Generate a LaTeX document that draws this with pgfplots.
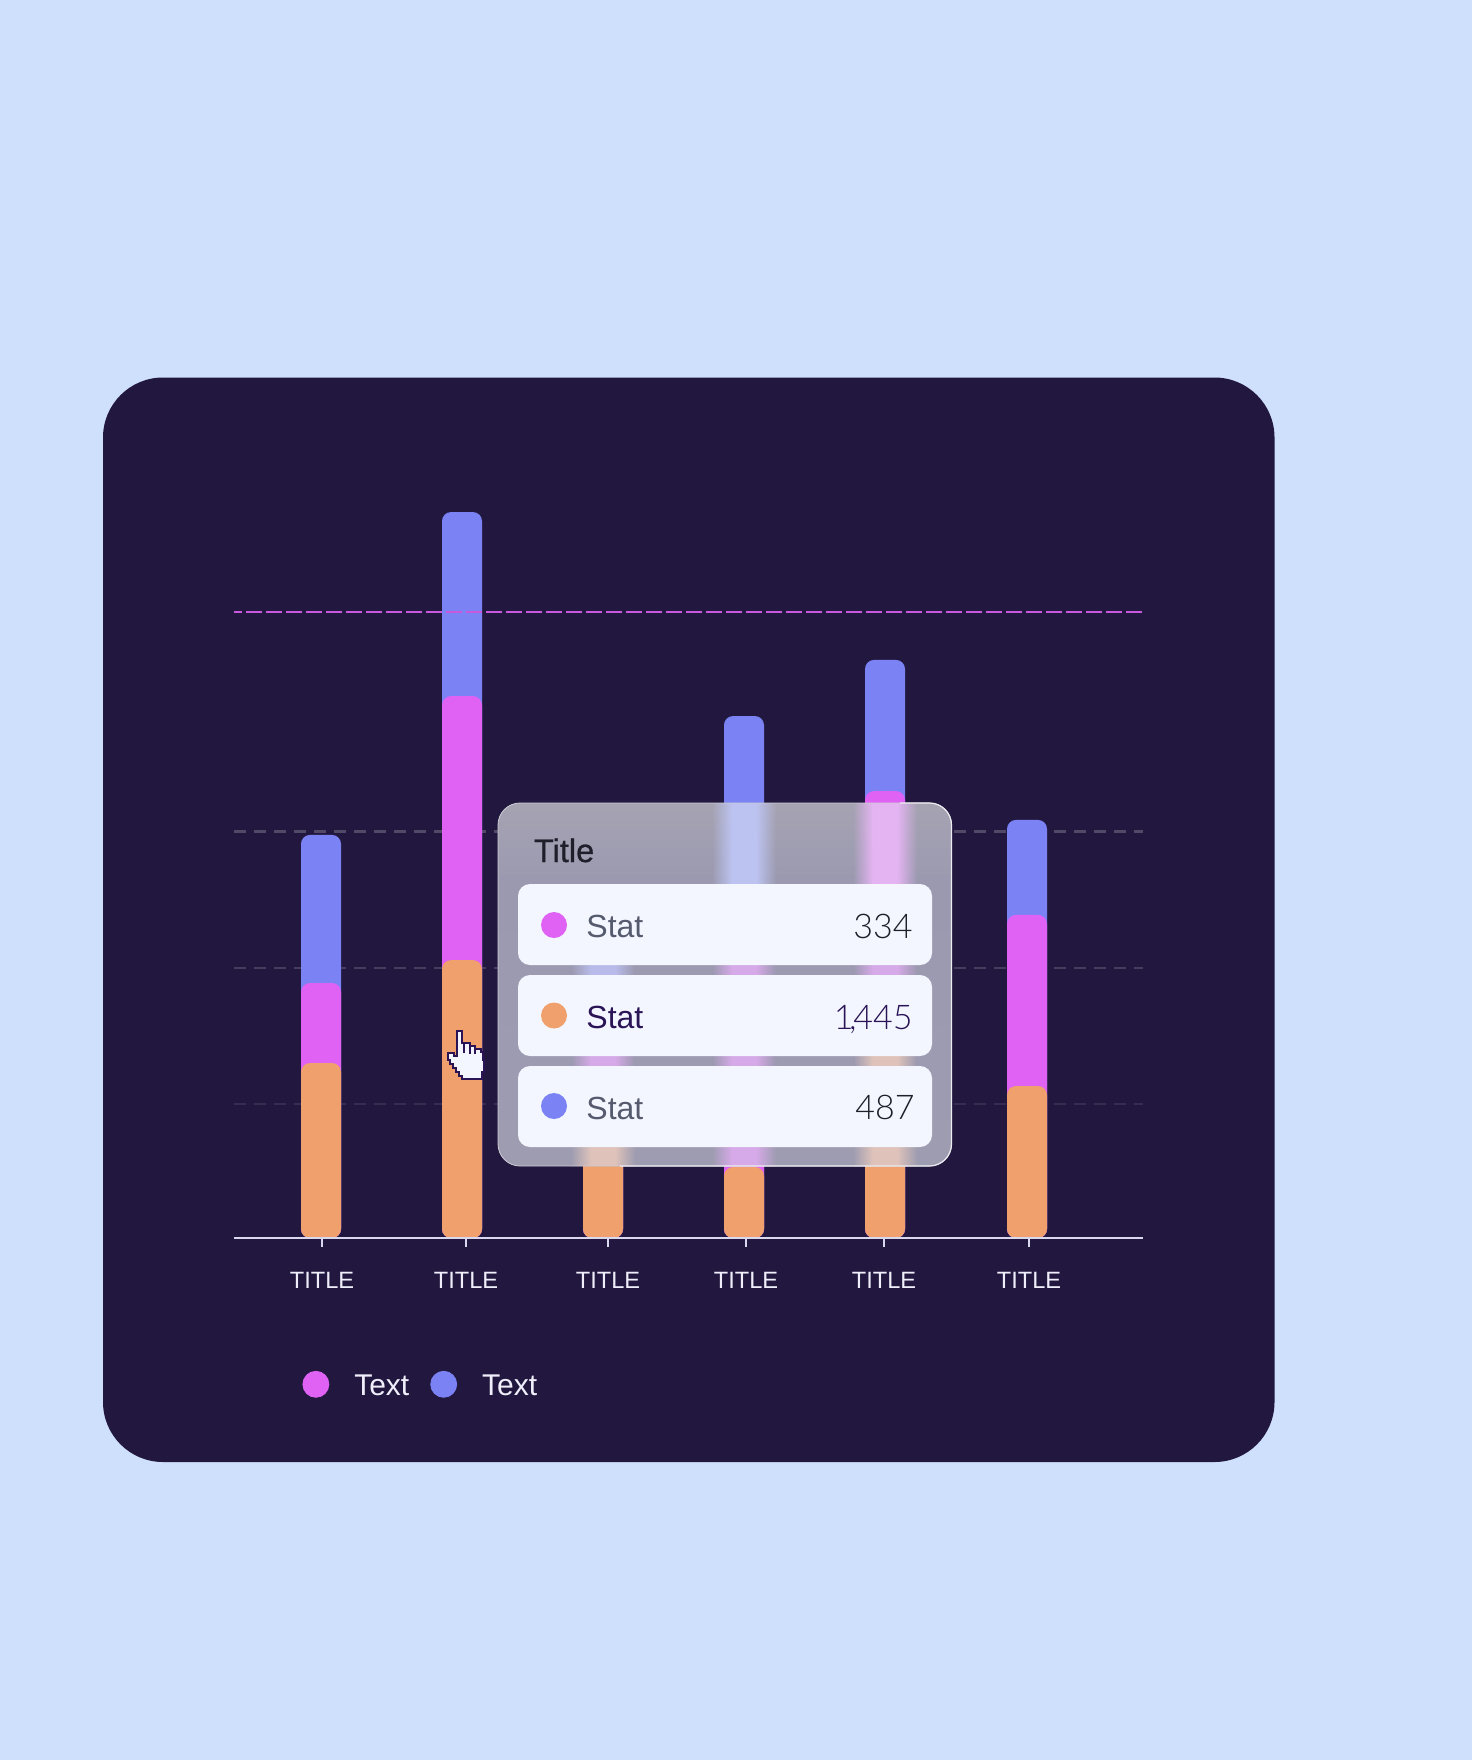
\documentclass[border=0pt]{standalone}
\usepackage{fontspec}
\usepackage{pgfplots}
\pgfplotsset{compat=1.18}
\setmainfont{Liberation Sans}
\newfontfamily\lightf{Lato Light}
\newfontfamily\medf[FakeBold=0.7]{Liberation Sans}
\definecolor{pagebg}{HTML}{CFE0FC}
\definecolor{card}{HTML}{22183F}
\definecolor{orangeb}{HTML}{F0A06C}
\definecolor{magb}{HTML}{DF62F4}
\definecolor{blueb}{HTML}{7A82F4}
\definecolor{axisc}{HTML}{DAD8EE}
\definecolor{labc}{HTML}{EFEEFA}
\definecolor{rowc}{HTML}{F3F6FE}
\definecolor{statc}{HTML}{555A6E}
\definecolor{numc}{HTML}{1F1F2C}
\definecolor{darkp}{HTML}{2A1456}
\definecolor{pa}{HTML}{A5A2B2}
\definecolor{pb}{HTML}{9B99B0}
\definecolor{pc}{HTML}{9E9CB1}
\definecolor{tblue}{HTML}{BCC3F0}
\definecolor{tmag}{HTML}{E4B4F2}
\definecolor{gblue}{HTML}{B8BBEA}
\definecolor{gmag}{HTML}{D6A9E8}
\definecolor{gora}{HTML}{DFC3BA}
\pgfplotstableread{
x    orange magenta blue
321  910    1326    2096
462  1445   2818    3775
603  686    1154    1622
744  369    1622    2714
885  1154   2324    3006
1027 790    1680    2174
}\bars
\pgfplotsset{barst/.style={ybar,bar width=20pt,bar shift=0pt,draw=none,rounded corners=4.5pt,forget plot}}
% glow of a bar behind the frosted panel: centre x, y from, y to, edge colour, glow colour
\newcommand{\strk}[5]{%
  \shade[left color=#4,right color=#5] (#1-32,#2) rectangle (#1-12,#3);
  \fill[#5] (#1-12.3,#2) rectangle (#1+12.3,#3);
  \shade[left color=#5,right color=#4] (#1+12,#2) rectangle (#1+32,#3);}
\begin{document}
\begin{tikzpicture}[x=0.5pt,y=-0.5pt]
\fill[pagebg] (0,0) rectangle (1472,1760);
\fill[card,rounded corners=30pt] (103,377.5) rectangle (1274.5,1462);
\begin{axis}[
  at={(117pt,-619pt)},anchor=south west,scale only axis,
  width=454.5pt,height=369pt,
  xmin=234,xmax=1143,ymin=0,ymax=3837.6,
  clip=false,axis on top,
  axis y line=none,axis x line*=bottom,
  x axis line style={draw=axisc,line width=1.35pt,-},
  xtick={322,466,608,746,884,1029},
  xticklabels={TITLE,TITLE,TITLE,TITLE,TITLE,TITLE},
  xtick align=outside,xtick pos=bottom,major tick length=4.5pt,
  x tick style={draw=axisc,line width=1.2pt},
  xticklabel style={font=\fontsize{11.8}{14}\selectfont,text=labc,anchor=base,yshift=-20.8pt},
  legend style={at={(0.0683,-0.2016)},anchor=west,draw=none,fill=none,legend columns=4,
    font=\fontsize{15}{17}\selectfont,text=labc,
    /tikz/column 1/.style={column sep=10.5pt},
    /tikz/column 2/.style={column sep=8.5pt},
    /tikz/column 3/.style={column sep=10.5pt}},
]
\addplot[draw=white!21!card,line width=1.1pt,dash pattern=on 6pt off 4pt,forget plot] coordinates {(234,2114) (1143,2114)};
\addplot[draw=white!16!card,line width=1.1pt,dash pattern=on 6pt off 4pt,forget plot] coordinates {(234,1404) (1143,1404)};
\addplot[draw=white!9!card,line width=1.1pt,dash pattern=on 6pt off 4pt,forget plot] coordinates {(234,697) (1143,697)};
\addplot[barst,fill=blueb] table[x=x,y=blue] {\bars};
\addplot[barst,fill=magb] table[x=x,y=magenta] {\bars};
\addplot[barst,fill=orangeb] table[x=x,y=orange] {\bars};
\addplot[draw=magb!88!card,line width=1.3pt,dash pattern=on 8pt off 2pt,dash phase=4pt,forget plot] coordinates {(234,3255) (1143,3255)};
\addlegendimage{legend image code/.code={\fill[magb] (0.2cm,1.3pt) circle (6.5pt);}}
\addlegendentry{Text}
\addlegendimage{legend image code/.code={\fill[blueb] (0.2cm,1.3pt) circle (6.5pt);}}
\addlegendentry{Text}
\end{axis}
% tooltip panel
\begin{scope}
\clip[rounded corners=11pt] (498,803) rectangle (951.5,1166);
\shade[top color=pb,bottom color=pc] (498,884) rectangle (952,1166);
\foreach \i in {0,...,8}{
  \pgfmathtruncatemacro{\p}{100-\i*12}
  \colorlet{edgec}{pa!\p!pb}
  \pgfmathsetmacro{\ya}{803+\i*9}
  \pgfmathsetmacro{\yb}{803+\i*9+9.3}
  \fill[edgec] (498,\ya) rectangle (952,\yb);
  \strk{744}{\ya}{\yb}{edgec}{tblue}
  \strk{885}{\ya}{\yb}{edgec}{tmag}
}
\strk{603}{960}{980}{pb}{gblue}
\strk{744}{960}{980}{pb}{gmag}
\strk{885}{960}{980}{pb}{gmag}
\strk{603}{1050}{1070}{pb}{gmag}
\strk{744}{1050}{1070}{pb}{gmag}
\strk{885}{1050}{1070}{pb}{gora}
\strk{603}{1142}{1170}{pc}{gora}
\strk{744}{1142}{1170}{pc}{gmag}
\strk{885}{1142}{1170}{pc}{gora}
\end{scope}
\draw[white!45!pa,line width=0.4pt,rounded corners=11pt] (498,803) rectangle (951.5,1166);
\draw[white!80!pc,line width=0.6pt,rounded corners=11pt] (900,803)--(951.5,803)--(951.5,1166)--(620,1166);
\node[anchor=base west,inner sep=0pt,text=numc] at (533.5,862) {\medf\fontsize{16.3}{19}\selectfont Title};
\fill[rowc,rounded corners=6pt] (518,884) rectangle (932,965);
\fill[rowc,rounded corners=6pt] (518,975) rectangle (932,1056);
\fill[rowc,rounded corners=6pt] (518,1066) rectangle (932,1147);
\fill[magb] (554,925) circle (6.5pt);
\fill[orangeb] (554,1015.5) circle (6.5pt);
\fill[blueb] (554,1106) circle (6.5pt);
\node[anchor=base west,inner sep=0pt,text=statc] at (586,937) {\fontsize{16}{19}\selectfont Stat};
\node[anchor=base west,inner sep=0pt,text=darkp] at (586,1028) {\fontsize{16}{19}\selectfont Stat};
\node[anchor=base west,inner sep=0pt,text=statc] at (586,1119) {\fontsize{16}{19}\selectfont Stat};
\node[anchor=base east,inner sep=0pt,text=numc] at (913,938) {\lightf\fontsize{17}{19}\selectfont 334};
\node[anchor=base east,inner sep=0pt,text=darkp] at (913,1029) {\lightf\fontsize{17}{19}\selectfont 1\kern-2.2pt,\kern-1.6pt 445};
\node[anchor=base east,inner sep=0pt,text=numc] at (915,1119) {\lightf\fontsize{17}{19}\selectfont 487};
% hand cursor
\begin{scope}[shift={(440,1020)}]
\filldraw[fill=rowc,draw=darkp,line width=0.9pt,line join=miter]
 (17,11)--(22,11)--(22,23)--(30,23)--(30,26)--(35,26)--(35,29)--(41,29)--(41,32)--(43,32)--(43,40)--(44,40)--(44,52)--(42,52)--(42,59)
 --(22,59)--(22,56)--(19,56)--(19,52)--(16,52)--(16,48)--(13,48)--(13,44)--(10,44)--(10,40)--(8,40)--(8,33)--(14,33)--(14,36)--(17,36)--cycle;
\draw[darkp,line width=0.7pt] (24,23)--(24,33) (30,26)--(30,34) (35,29)--(35,34);
\end{scope}
\end{tikzpicture}
\end{document}
